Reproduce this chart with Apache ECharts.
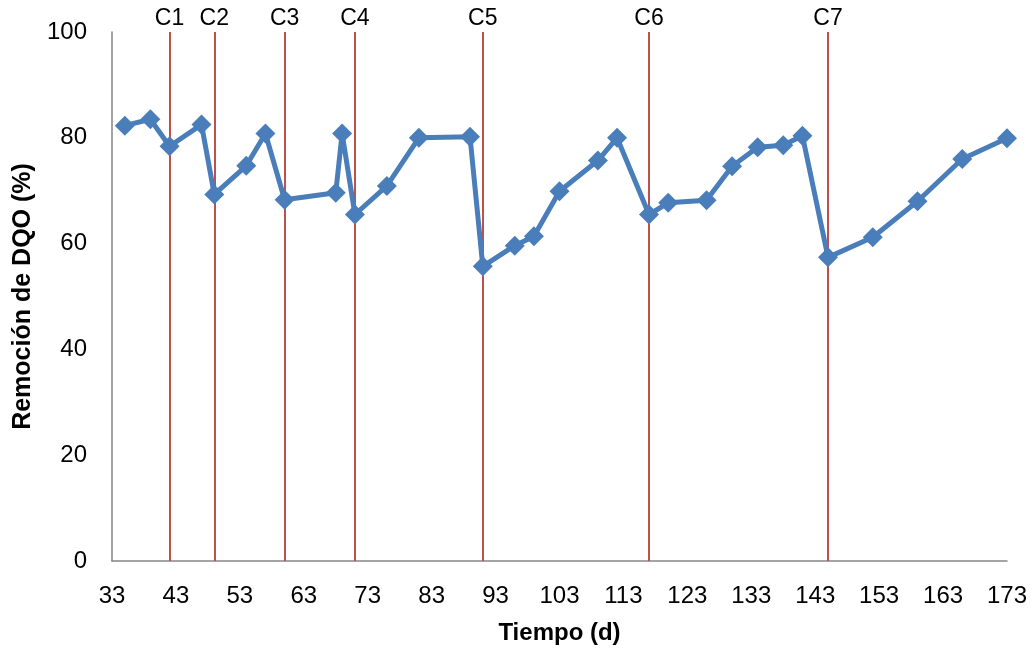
<!DOCTYPE html>
<html>
<head>
<meta charset="utf-8">
<script src="https://cdn.jsdelivr.net/npm/echarts@6/dist/echarts.min.js"></script>
<style>
html,body{margin:0;padding:0;background:#fff;}
#chart{width:1034px;height:652px;}
</style>
</head>
<body>
<div id="chart"></div>
<script>
// Days (x) and COD removal (%) values
var days = [35, 39, 42, 47, 49, 54, 57, 60, 68, 69, 71, 76, 81, 89, 91, 96, 99, 103, 109, 112, 117, 120, 126, 130, 134, 138, 141, 145, 152, 159, 166, 173];
var removal = [82.3, 83.5, 78.4, 82.5, 69.3, 74.7, 80.8, 68.3, 69.6, 80.8, 65.5, 70.9, 80.0, 80.2, 55.7, 59.6, 61.4, 69.9, 75.7, 80.0, 65.5, 67.7, 68.2, 74.6, 78.2, 78.6, 80.4, 57.4, 61.2, 68.0, 76.0, 79.9];
// Condition change markers
var changeDays = [42, 49, 60, 71, 91, 117, 145];
var changeLabels = ['C1', 'C2', 'C3', 'C4', 'C5', 'C6', 'C7'];
// Tick labels
var xTicks = [33, 43, 53, 63, 73, 83, 93, 103, 113, 123, 133, 143, 153, 163, 173];

var points = days.map(function (d, i) { return [d, removal[i]]; });
var marks = changeDays.map(function (d, i) { return { xAxis: d, name: changeLabels[i] }; });

var font = "'Liberation Sans', Arial, sans-serif";
var chart = echarts.init(document.getElementById('chart'));
chart.setOption({
  animation: false,
  backgroundColor: '#ffffff',
  grid: { left: 112, right: 27, top: 32, bottom: 91, containLabel: false },
  xAxis: {
    type: 'value',
    min: 33,
    max: 173,
    name: 'Tiempo (d)',
    nameLocation: 'middle',
    nameGap: 60,
    nameTextStyle: { fontFamily: font, fontSize: 24, fontWeight: 'bold', color: '#000' },
    axisLine: { show: true, lineStyle: { color: '#868686', width: 1.5 } },
    axisTick: { show: false },
    splitLine: { show: false },
    axisLabel: { customValues: xTicks, fontFamily: font, fontSize: 24, color: '#000', margin: 23 }
  },
  yAxis: {
    type: 'value',
    min: 0,
    max: 100,
    interval: 20,
    name: 'Remoción de DQO (%)',
    nameLocation: 'middle',
    nameGap: 72,
    nameTextStyle: { fontFamily: font, fontSize: 25, fontWeight: 'bold', color: '#000' },
    axisLine: { show: true, lineStyle: { color: '#868686', width: 1.5 } },
    axisTick: { show: false },
    splitLine: { show: false },
    axisLabel: { fontFamily: font, fontSize: 24, color: '#000', margin: 25 }
  },
  series: [{
    type: 'line',
    data: points,
    symbol: 'diamond',
    symbolSize: 20,
    lineStyle: { color: '#4A7EBB', width: 5 },
    itemStyle: { color: '#4A7EBB' },
    z: 3,
    markLine: {
      silent: true,
      symbol: ['none', 'none'],
      lineStyle: { color: '#C0504D', width: 2, type: 'solid' },
      label: {
        show: true,
        position: 'end',
        formatter: '{b}',
        fontFamily: font,
        fontSize: 23,
        color: '#000',
        distance: 2
      },
      z: 1,
      data: marks
    }
  }]
});
</script>
</body>
</html>
